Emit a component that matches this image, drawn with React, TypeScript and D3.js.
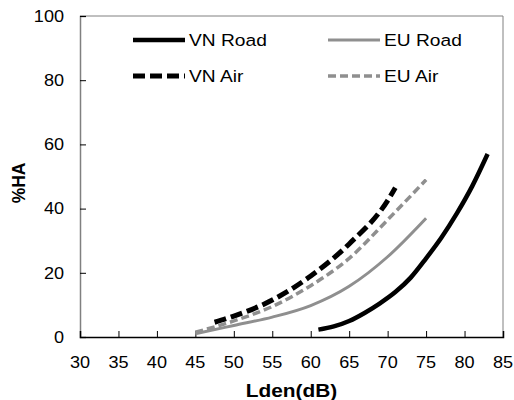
import * as d3 from "d3";
import React, { useRef, useEffect } from "react";

interface Pt {
  x: number;
  y: number;
}

const vnRoadX = [61, 63, 65, 67, 69, 71, 73, 75, 77, 79, 81, 83];
const vnRoadY = [2.3, 3.3, 5, 7.5, 10.5, 14, 18.5, 24.5, 31, 38.5, 47, 57];

const euRoadX = [45, 50, 55, 60, 65, 70, 75];
const euRoadY = [1, 3.6, 6.2, 9.8, 15.8, 25, 37];

const vnAirX = [47.5, 50, 55, 60, 65, 70, 71];
const vnAirY = [4.6, 6.5, 11.5, 19, 29, 42.5, 46.5];

const euAirX = [45, 50, 55, 60, 65, 70, 75];
const euAirY = [1.5, 5, 9.5, 16, 24.5, 36.5, 49];

const xTicks = [30, 35, 40, 45, 50, 55, 60, 65, 70, 75, 80, 85];
const yTicks = [0, 20, 40, 60, 80, 100];

const series = [
  { name: "VN Road", xs: vnRoadX, ys: vnRoadY, color: "#000000", width: 4.5, dash: null as string | null, col: 0, row: 0 },
  { name: "EU Road", xs: euRoadX, ys: euRoadY, color: "#8f8f8f", width: 3, dash: null as string | null, col: 1, row: 0 },
  { name: "VN Air", xs: vnAirX, ys: vnAirY, color: "#000000", width: 5, dash: "12,5", col: 0, row: 1 },
  { name: "EU Air", xs: euAirX, ys: euAirY, color: "#8f8f8f", width: 3.5, dash: "8,4", col: 1, row: 1 },
];

const App: React.FC = () => {
  const svgRef = useRef<SVGSVGElement>(null);

  useEffect(() => {
    const svg = d3.select(svgRef.current);
    svg.selectAll("*").remove();

    const width = 514;
    const height = 400;
    const marginLeft = 80;
    const marginRight = 11;
    const marginTop = 16;
    const marginBottom = 63;

    const x = d3.scaleLinear().domain([30, 85]).range([marginLeft, width - marginRight]);
    const y = d3.scaleLinear().domain([0, 100]).range([height - marginBottom, marginTop]);

    const font = "'Liberation Sans', Arial, sans-serif";
    const sx = 1.13; // text in the original is slightly stretched horizontally

    // frame (top and right)
    svg.append("path")
      .attr("d", `M${x(30)},${y(100)}H${x(85)}V${y(0)}`)
      .attr("fill", "none")
      .attr("stroke", "#808080")
      .attr("stroke-width", 1);

    // y axis
    svg.append("g")
      .attr("transform", `translate(${x(30)},0)`)
      .call(d3.axisRight(y).tickValues(yTicks).tickSize(6).tickFormat(() => ""))
      .call(g => g.select(".domain").attr("stroke", "#808080").attr("stroke-width", 1.5))
      .call(g => g.selectAll(".tick line").attr("stroke", "#000"));

    svg.append("g")
      .attr("font-family", font)
      .attr("font-size", 16)
      .attr("text-anchor", "end")
      .selectAll("text")
      .data(yTicks)
      .join("text")
      .attr("transform", d => `translate(${x(30) - 16},${y(d)}) scale(${sx},1)`)
      .attr("dy", "0.36em")
      .text(d => d);

    // x axis
    svg.append("g")
      .attr("transform", `translate(0,${y(0)})`)
      .call(d3.axisTop(x).tickValues(xTicks).tickSize(6).tickFormat(() => ""))
      .call(g => g.select(".domain").attr("stroke", "#000").attr("stroke-width", 1.5))
      .call(g => g.selectAll(".tick line").attr("stroke", "#000"));

    svg.append("g")
      .attr("font-family", font)
      .attr("font-size", 16)
      .attr("text-anchor", "middle")
      .selectAll("text")
      .data(xTicks)
      .join("text")
      .attr("transform", d => `translate(${x(d)},${y(0) + 31}) scale(${sx},1)`)
      .text(d => d);

    // axis titles
    svg.append("text")
      .attr("transform", `translate(${(x(30) + x(85)) / 2},397) scale(${sx},1)`)
      .attr("text-anchor", "middle")
      .attr("font-family", font)
      .attr("font-weight", "bold")
      .attr("font-size", 18.5)
      .text("Lden(dB)");

    svg.append("text")
      .attr("transform", `translate(25,${y(48)}) rotate(-90)`)
      .attr("text-anchor", "middle")
      .attr("font-family", font)
      .attr("font-weight", "bold")
      .attr("font-size", 17.5)
      .text("%HA");

    // curves
    const line = d3.line<Pt>()
      .curve(d3.curveMonotoneX)
      .x(d => x(d.x))
      .y(d => y(d.y));

    series.forEach(s => {
      const pts: Pt[] = s.xs.map((v, i) => ({ x: v, y: s.ys[i] }));
      const p = svg.append("path")
        .datum(pts)
        .attr("fill", "none")
        .attr("stroke", s.color)
        .attr("stroke-width", s.width)
        .attr("d", line);
      if (s.dash) p.attr("stroke-dasharray", s.dash);
    });

    // legend
    const legend = svg.append("g")
      .attr("font-family", font)
      .attr("font-size", 17);

    const legX = [133, 328];
    const legY = [40, 76];
    series.forEach(s => {
      const lx = legX[s.col];
      const ly = legY[s.row];
      const l = legend.append("line")
        .attr("x1", lx)
        .attr("x2", lx + 52)
        .attr("y1", ly)
        .attr("y2", ly)
        .attr("stroke", s.color)
        .attr("stroke-width", s.width);
      if (s.dash) l.attr("stroke-dasharray", s.dash);
      legend.append("text")
        .attr("transform", `translate(${lx + 56},${ly}) scale(${sx},1)`)
        .attr("dy", "0.36em")
        .text(s.name);
    });
  }, []);

  return (
    <svg
      ref={svgRef}
      width={514}
      height={400}
      style={{ position: "absolute", left: 0, top: 0, background: "#fff" }}
    ></svg>
  );
};

export default App;
